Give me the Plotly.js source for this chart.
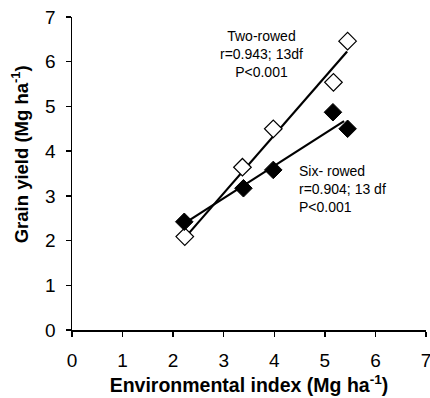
<!DOCTYPE html>
<html>
<head>
<meta charset="utf-8">
<script src="https://cdn.plot.ly/plotly-3.0.1.min.js"></script>
<style>html,body{margin:0;padding:0;background:#fff;}#chart{width:430px;height:398px;}</style>
</head>
<body>
<div id="chart"></div>
<script>
// Two-rowed (open diamonds)
var twoX = [2.23, 3.37, 3.98, 5.17, 5.45];
var twoY = [2.09, 3.64, 4.50, 5.54, 6.46];
// Six-rowed (filled diamonds)
var sixX = [2.22, 3.39, 3.98, 5.16, 5.45];
var sixY = [2.42, 3.17, 3.58, 4.87, 4.50];
// Fitted regression lines (end points)
var twoFitX = [2.30, 5.44];
var twoFitY = [2.15, 6.23];
var sixFitX = [2.30, 5.38];
var sixFitY = [2.44, 4.67];
var tickVals = [0, 1, 2, 3, 4, 5, 6, 7];
var tickText = ['0', '1', '2', '3', '4', '5', '6', '7'];
var twoLabel = 'Two-rowed<br>r=0.943; 13df<br>P<0.001';
var sixLabel = 'Six- rowed<br>r=0.904; 13 df<br>P<0.001';
var xTitle = '<b>Environmental index (Mg ha<sup>-1</sup>)</b>';
var yTitle = '<b>Grain yield (Mg ha<sup>-1</sup>)</b>';

var F = 'Liberation Sans, Arial, sans-serif';
var traces = [
  {x: twoFitX, y: twoFitY, mode: 'lines', line: {color: '#000', width: 2.2}, hoverinfo: 'skip', showlegend: false},
  {x: sixFitX, y: sixFitY, mode: 'lines', line: {color: '#000', width: 2.2}, hoverinfo: 'skip', showlegend: false},
  {x: twoX, y: twoY, mode: 'markers', name: 'Two-rowed',
   marker: {symbol: 'diamond', size: 13.5, color: '#fff', line: {color: '#000', width: 1.2}}, showlegend: false},
  {x: sixX, y: sixY, mode: 'markers', name: 'Six-rowed',
   marker: {symbol: 'diamond', size: 13.5, color: '#000', line: {color: '#000', width: 1}}, showlegend: false}
];
var axisCommon = {
  range: [0, 7], tickmode: 'array', tickvals: tickVals, ticktext: tickText,
  showgrid: false, zeroline: false, showline: true, linecolor: '#000', linewidth: 1.5,
  ticks: 'outside', ticklen: 5, tickwidth: 1.5, tickcolor: '#000',
  ticklabeloverflow: 'allow',
  tickfont: {family: F, size: 19, color: '#000'}
};
var layout = {
  width: 430, height: 398,
  margin: {l: 72, r: 4, t: 17, b: 68},
  paper_bgcolor: '#fff', plot_bgcolor: '#fff',
  showlegend: false,
  xaxis: Object.assign({}, axisCommon, {
    ticklabelstandoff: 8,
    title: {text: xTitle, font: {family: F, size: 19.5, color: '#000'}, standoff: 8}
  }),
  yaxis: Object.assign({}, axisCommon, {ticklabelstandoff: 6}),
  annotations: [
    {xref: 'paper', yref: 'paper', x: -0.148, y: 0.56, xanchor: 'center', yanchor: 'middle',
     text: yTitle, textangle: -90, showarrow: false, font: {family: F, size: 18.5, color: '#000'}},
    {xref: 'x', yref: 'y', x: 3.74, y: 6.18, xanchor: 'center', yanchor: 'middle', align: 'center',
     text: twoLabel, showarrow: false, font: {family: F, size: 14, color: '#000'}},
    {xref: 'x', yref: 'y', x: 4.45, y: 3.15, xanchor: 'left', yanchor: 'middle', align: 'left',
     text: sixLabel, showarrow: false, font: {family: F, size: 14, color: '#000'}}
  ]
};
Plotly.newPlot('chart', traces, layout, {displayModeBar: false, staticPlot: true});
</script>
</body>
</html>
